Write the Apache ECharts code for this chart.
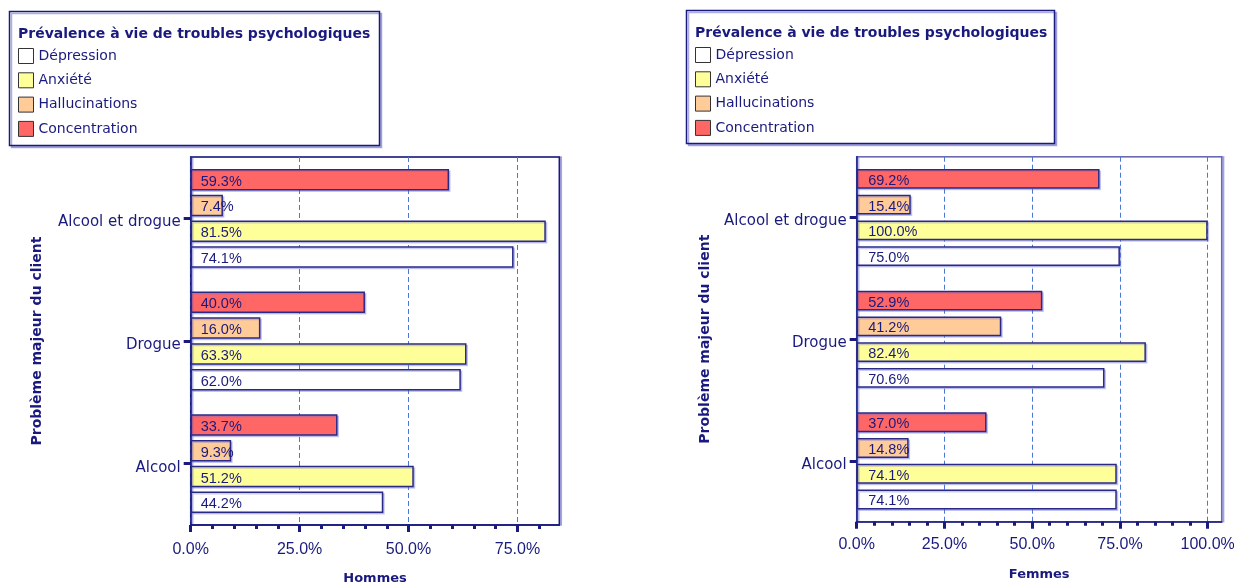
<!DOCTYPE html>
<html><head><meta charset="utf-8">
<script src="https://cdn.jsdelivr.net/npm/echarts@6/dist/echarts.min.js"></script>
<style>html,body{margin:0;padding:0;background:#fff}#c{width:1234px;height:584px}</style>
</head><body><div id="c"></div>
<script>
// ---- data ----
const categories = ['Alcool', 'Drogue', 'Alcool et drogue'];
const seriesNames = ['Dépression', 'Anxiété', 'Hallucinations', 'Concentration'];
const hommesDepression = [44.2, 62.0, 74.1];
const hommesAnxiete = [51.2, 63.3, 81.5];
const hommesHallucinations = [9.3, 16.0, 7.4];
const hommesConcentration = [33.7, 40.0, 59.3];
const femmesDepression = [74.1, 70.6, 75.0];
const femmesAnxiete = [74.1, 82.4, 100.0];
const femmesHallucinations = [14.8, 41.2, 15.4];
const femmesConcentration = [37.0, 52.9, 69.2];
const hommesTicks = [0, 25, 50, 75];
const hommesMinorTicks = [0, 5, 10, 15, 20, 25, 30, 35, 40, 45, 50, 55, 60, 65, 70, 75, 80];
const femmesTicks = [0, 25, 50, 75, 100];
const femmesMinorTicks = [0, 5, 10, 15, 20, 25, 30, 35, 40, 45, 50, 55, 60, 65, 70, 75, 80, 85, 90, 95, 100];
const legendTitle = 'Prévalence à vie de troubles psychologiques';
const yTitle = 'Problème majeur du client';
const xTitleHommes = 'Hommes';
const xTitleFemmes = 'Femmes';

// ---- styles ----
const NAVY = '#1a1a7e';
const BARB = '#2a2a86';
const GRIDC = '#4a78d4';
const COMIC = "'DejaVu Sans', sans-serif";
const NARROW = "'Liberation Sans', Arial, sans-serif";
const fills = ['#ffffff', '#ffff99', '#ffcc99', '#ff6666'];

const chart = echarts.init(document.getElementById('c'), null, {renderer: 'canvas'});

function bar(name, data, fill, xi, yi, o) {
  return {
    type: 'bar', name, data, xAxisIndex: xi, yAxisIndex: yi,
    barWidth: o.bw, barGap: o.gap,
    itemStyle: {color: fill, borderColor: BARB, borderWidth: 1.5,
      shadowColor: 'rgba(110,110,220,0.35)', shadowOffsetX: 1.5, shadowOffsetY: 1.5},
    label: {show: true, position: 'insideLeft', distance: o.dist, offset: [0, 2],
      formatter: p => p.value.toFixed(1) + '%', fontFamily: NARROW, fontSize: o.fs,
      color: NAVY, textBorderWidth: 0},
    emphasis: {disabled: true}
  };
}
const hom = [hommesDepression, hommesAnxiete, hommesHallucinations, hommesConcentration];
const fem = [femmesDepression, femmesAnxiete, femmesHallucinations, femmesConcentration];
const series = [];
// reversed so that Dépression sits at the bottom of each group
for (let i = seriesNames.length - 1; i >= 0; i--)
  series.push(bar(seriesNames[i], hom[i], fills[i], 0, 0, {bw: 21.5, gap: '20%', dist: 10, fs: 14.5}));
for (let i = seriesNames.length - 1; i >= 0; i--)
  series.push(bar(seriesNames[i], fem[i], fills[i], 2, 1, {bw: 19.8, gap: '30%', dist: 11.5, fs: 14.5}));

function yAxis(gi, gap) {
  return {
    type: 'category', gridIndex: gi, data: categories,
    axisLine: {show: true, lineStyle: {color: NAVY, width: 1.5}},
    axisTick: {show: true, alignWithLabel: true, length: 7, lineStyle: {color: NAVY, width: 3}},
    axisLabel: {fontFamily: COMIC, fontSize: 15, color: NAVY, margin: 10,
      verticalAlign: 'top', lineHeight: 8},
    splitLine: {show: false},
    name: yTitle, nameLocation: 'middle', nameGap: gap,
    nameTextStyle: {fontFamily: COMIC, fontSize: 14, fontWeight: 'bold', color: NAVY}
  };
}
function xMajor(gi, max, ticks, name, margin, gap) {
  return {
    type: 'value', gridIndex: gi, position: 'bottom', min: 0, max: max,
    axisLine: {show: true, lineStyle: {color: NAVY, width: 1.5}},
    axisTick: {show: true, customValues: ticks, length: 7, lineStyle: {color: NAVY, width: 3}},
    axisLabel: {customValues: ticks, formatter: v => v.toFixed(1) + '%', fontFamily: NARROW,
      fontSize: 16, color: NAVY, margin: margin},
    splitLine: {show: true, lineStyle: {color: GRIDC, type: [5, 3], width: 1}},
    name: name, nameLocation: 'middle', nameGap: gap,
    nameTextStyle: {fontFamily: COMIC, fontSize: 13, fontWeight: 'bold', color: NAVY}
  };
}
function xMinor(gi, max, ticks) {
  return {
    type: 'value', gridIndex: gi, position: 'bottom', offset: 0, min: 0, max: max,
    axisLine: {show: false},
    axisTick: {show: true, customValues: ticks, length: 4, lineStyle: {color: NAVY, width: 3}},
    axisLabel: {show: false}, splitLine: {show: false}
  };
}
function legend(left, top) {
  return {
    left: left, top: top, orient: 'vertical', padding: 0, itemWidth: 15, itemHeight: 15,
    itemGap: 8.3, icon: 'rect', data: seriesNames,
    itemStyle: {borderColor: '#333', borderWidth: 1, shadowColor: 'transparent'},
    textStyle: {fontFamily: COMIC, fontSize: 14, color: NAVY, lineHeight: 15, height: 15}
  };
}
function box(x, y, w, h) {
  return {type: 'rect', z: -10, shape: {x: x, y: y, width: w, height: h},
    style: {fill: '#fff', stroke: NAVY, lineWidth: 1.5,
      shadowColor: 'rgba(120,120,210,0.6)', shadowOffsetX: 2, shadowOffsetY: 2, shadowBlur: 0}};
}

chart.setOption({
  animation: false,
  backgroundColor: '#fff',
  title: [
    {text: legendTitle, left: 18, top: 27, padding: 0,
      textStyle: {fontFamily: COMIC, fontSize: 14, fontWeight: 'bold', color: NAVY}},
    {text: legendTitle, left: 695, top: 26, padding: 0,
      textStyle: {fontFamily: COMIC, fontSize: 14, fontWeight: 'bold', color: NAVY}}
  ],
  legend: [legend(18, 48), legend(695, 47)],
  graphic: [box(9.5, 11.5, 370, 134), box(686.5, 10.5, 368, 133)],
  grid: [
    {left: 190.7, top: 157, width: 368.6, height: 368, outerBoundsMode: 'none', containLabel: false,
      show: true, borderColor: NAVY, borderWidth: 1.5,
      backgroundColor: '#fff', shadowColor: 'rgba(120,120,210,0.6)', shadowOffsetX: 2, shadowOffsetY: 0, shadowBlur: 0},
    {left: 856.7, top: 156.7, width: 365, height: 365, outerBoundsMode: 'none', containLabel: false,
      show: true, borderColor: '#6a6ab4', borderWidth: 1.5,
      backgroundColor: '#fff', shadowColor: 'rgba(120,120,210,0.5)', shadowOffsetX: 2, shadowOffsetY: 0, shadowBlur: 0}
  ],
  xAxis: [
    xMajor(0, 84.6, hommesTicks, xTitleHommes, 17, 47),
    xMinor(0, 84.6, hommesMinorTicks),
    xMajor(1, 104, femmesTicks, xTitleFemmes, 15, 46),
    xMinor(1, 104, femmesMinorTicks)
  ],
  yAxis: [yAxis(0, 146), yAxis(1, 144)],
  series: series
});
</script>
</body></html>
